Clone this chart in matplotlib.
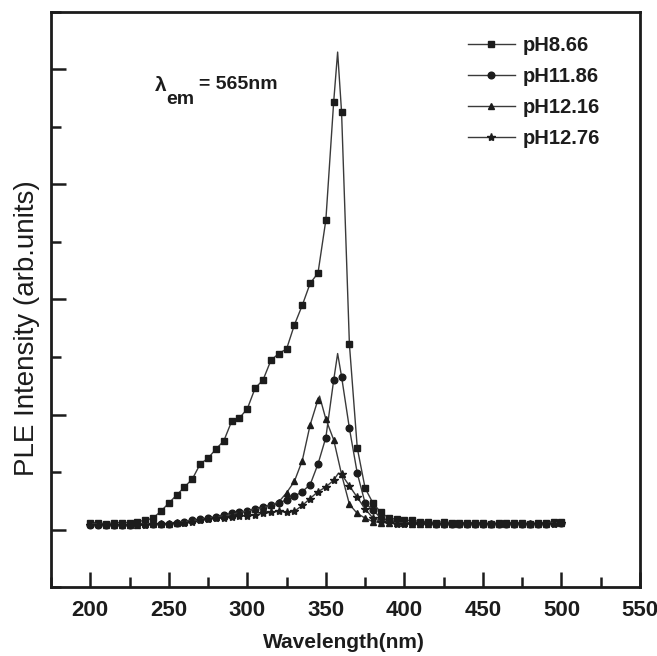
import matplotlib.pyplot as plt
from matplotlib.ticker import MultipleLocator
import numpy as np

plt.rcParams['font.family'] = ['Liberation Sans', 'DejaVu Sans']

# wavelength grid (nm), 5 nm steps, plus a peak point near 357.5 nm
wl = list(range(200, 505, 5))

ph866 = [0.06, 0.06, 0.05, 0.06, 0.06, 0.06, 0.07, 0.08, 0.10, 0.16,
         0.23, 0.30, 0.37, 0.44, 0.57, 0.62, 0.70, 0.77, 0.94, 0.97,
         1.05, 1.23, 1.30, 1.47, 1.53, 1.57, 1.78, 1.95, 2.14, 2.23,
         2.69, 3.72, 3.63, 1.61, 0.71, 0.36, 0.23, 0.15, 0.10, 0.09,
         0.08, 0.08, 0.07, 0.07, 0.06, 0.07, 0.06, 0.06, 0.06, 0.06,
         0.06, 0.05, 0.06, 0.06, 0.06, 0.06, 0.05, 0.06, 0.06, 0.07,
         0.07]
ph1186 = [0.04, 0.04, 0.04, 0.04, 0.04, 0.04, 0.05, 0.05, 0.05, 0.05,
          0.05, 0.06, 0.07, 0.08, 0.09, 0.10, 0.11, 0.13, 0.14, 0.15,
          0.16, 0.18, 0.20, 0.21, 0.23, 0.26, 0.29, 0.33, 0.39, 0.57,
          0.80, 1.30, 1.33, 0.88, 0.49, 0.23, 0.17, 0.10, 0.08, 0.07,
          0.06, 0.06, 0.06, 0.06, 0.05, 0.05, 0.05, 0.05, 0.05, 0.05,
          0.05, 0.05, 0.05, 0.05, 0.05, 0.05, 0.05, 0.05, 0.05, 0.06,
          0.06]
ph1216 = [0.05, 0.05, 0.04, 0.04, 0.04, 0.04, 0.04, 0.05, 0.05, 0.05,
          0.05, 0.06, 0.07, 0.08, 0.09, 0.10, 0.11, 0.12, 0.13, 0.15,
          0.16, 0.18, 0.19, 0.21, 0.24, 0.32, 0.42, 0.60, 0.91, 1.13,
          0.96, 0.78, 0.48, 0.22, 0.14, 0.10, 0.07, 0.06, 0.06, 0.06,
          0.06, 0.05, 0.05, 0.05, 0.05, 0.05, 0.05, 0.05, 0.05, 0.05,
          0.05, 0.05, 0.05, 0.05, 0.05, 0.05, 0.05, 0.05, 0.05, 0.06,
          0.06]
ph1276 = [0.04, 0.04, 0.04, 0.04, 0.04, 0.04, 0.04, 0.04, 0.05, 0.05,
          0.05, 0.06, 0.06, 0.07, 0.08, 0.09, 0.10, 0.10, 0.11, 0.12,
          0.12, 0.13, 0.14, 0.15, 0.16, 0.15, 0.16, 0.21, 0.27, 0.33,
          0.37, 0.43, 0.48, 0.38, 0.28, 0.18, 0.10, 0.07, 0.06, 0.05,
          0.05, 0.05, 0.05, 0.05, 0.05, 0.05, 0.05, 0.05, 0.05, 0.05,
          0.05, 0.05, 0.05, 0.05, 0.05, 0.05, 0.05, 0.05, 0.05, 0.05,
          0.06]

# sharp line maxima between marker points
peak_wl = [357.5, 357.5, 346.0, 358.0]
peak_val = [4.15, 1.53, 1.16, 0.49]

labels = ['pH8.66', 'pH11.86', 'pH12.16', 'pH12.76']
markers = ['s', 'o', '^', '*']
msizes = [4.5, 4.8, 5.0, 6.0]
series = [ph866, ph1186, ph1216, ph1276]

ink = '#1c1c1c'
fig = plt.figure(figsize=(6.57, 6.56), dpi=100)
ax = fig.add_axes([0.0776, 0.105, 0.8965, 0.877])

for vals, lab, mk, ms, pw, pv in zip(series, labels, markers, msizes, peak_wl, peak_val):
    x = np.array(wl, dtype=float)
    y = np.array(vals, dtype=float)
    idx = np.searchsorted(x, pw)
    x = np.insert(x, idx, pw)
    y = np.insert(y, idx, pv)
    mark_idx = [i for i in range(len(x)) if i != idx]
    ax.plot(x, y, color='#3a3a3a', lw=1.0, marker=mk, ms=ms,
            mfc=ink, mec=ink, markevery=mark_idx, label=lab)

ax.set_xlim(175, 550)
ax.set_ylim(-0.5, 4.5)
ax.xaxis.set_major_locator(MultipleLocator(50))
ax.xaxis.set_minor_locator(MultipleLocator(25))
ax.yaxis.set_major_locator(MultipleLocator(1))
ax.yaxis.set_minor_locator(MultipleLocator(0.5))
ax.set_yticklabels([])
ax.tick_params(axis='both', which='both', direction='in', width=1.8, colors=ink)
ax.tick_params(axis='both', which='major', length=11)
ax.tick_params(axis='both', which='minor', length=7)
ax.tick_params(axis='x', labelsize=16, pad=9)
for t in ax.get_xticklabels():
    t.set_fontweight('bold')
for s in ax.spines.values():
    s.set_linewidth(2)
    s.set_color(ink)

ax.set_xlabel('Wavelength(nm)', fontsize=15, fontweight='bold', color=ink)
ax.xaxis.set_label_coords(0.497, -0.08)
ax.set_ylabel('PLE Intensity (arb.units)', fontsize=20, color=ink)
ax.yaxis.set_label_coords(-0.018, 0.45)

# lambda_em label built from three pieces so the subscript stays large
ax.text(241, 3.86, '\u03bb', fontsize=15, fontweight='bold', color=ink, va='center')
ax.text(248.5, 3.74, 'em', fontsize=14, fontweight='bold', color=ink, va='center')
ax.text(269.5, 3.87, '= 565nm', fontsize=14, fontweight='bold', color=ink, va='center')

leg = ax.legend(loc='upper right', bbox_to_anchor=(0.963, 0.99), frameon=False,
                prop={'size': 14.5, 'weight': 'bold'}, handlelength=2.3,
                handletextpad=0.4, labelspacing=0.6)
for t in leg.get_texts():
    t.set_color(ink)

fig.savefig('out.png', dpi=100)
